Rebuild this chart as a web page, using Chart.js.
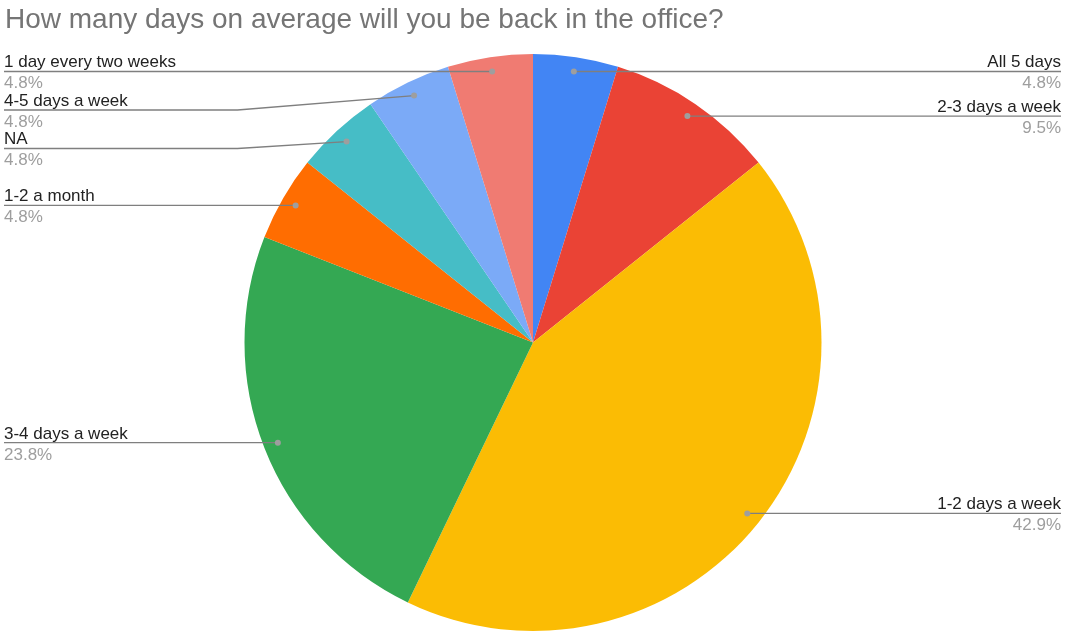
<!DOCTYPE html>
<html lang="en">

<head>
    <meta charset="UTF-8">
    <title>Back in the office</title>
    <style>
        body { margin: 0; background: #fff; }
        #wrap { width: 1065px; height: 633px; }
    </style>
</head>

<body>

    <script src="https://cdn.jsdelivr.net/npm/chart.js@4.4.0/dist/chart.umd.min.js"></script>

    <div id="wrap"><canvas id="myChart"></canvas></div>

    <script>

        var chartTitle = 'How many days on average will you be back in the office?';

        var labels = ['All 5 days', '2-3 days a week', '1-2 days a week', '3-4 days a week',
            '1-2 a month', 'NA', '4-5 days a week', '1 day every two weeks'];

        // number of responses per answer
        var counts = [1, 2, 9, 5, 1, 1, 1, 1];

        var colors = ['#4285f4', '#ea4335', '#fbbc04', '#34a853',
            '#ff6d01', '#46bdc6', '#7baaf7', '#f07b72'];

        var FONT = '"Liberation Sans", Arial, sans-serif';

        // title in the top left corner
        var titlePlugin = {
            id: 'sheetTitle',
            afterDraw: function (chart) {
                var ctx = chart.ctx;
                ctx.save();
                ctx.font = '28px ' + FONT;
                ctx.fillStyle = '#757575';
                ctx.textAlign = 'left';
                ctx.textBaseline = 'alphabetic';
                ctx.fillText(chartTitle, 5, 28);
                ctx.restore();
            }
        };

        // leader lines with label + percentage, like the spreadsheet pie
        var calloutPlugin = {
            id: 'callouts',
            afterDraw: function (chart) {
                var ctx = chart.ctx;
                var meta = chart.getDatasetMeta(0);
                var data = chart.data.datasets[0].data;
                var total = data.reduce(function (a, b) { return a + b; }, 0);
                var W = chart.width;
                var left = [], right = [];

                meta.data.forEach(function (arc, i) {
                    var mid = (arc.startAngle + arc.endAngle) / 2;
                    var r = arc.outerRadius * 0.95;
                    var item = {
                        i: i,
                        cx: arc.x, cy: arc.y, R: arc.outerRadius,
                        px: arc.x + Math.cos(mid) * r,
                        py: arc.y + Math.sin(mid) * r
                    };
                    item.y = item.py;
                    (Math.cos(mid) >= 0 ? right : left).push(item);
                });

                // push labels apart so they don't overlap
                [left, right].forEach(function (side) {
                    side.sort(function (a, b) { return a.py - b.py; });
                    var prev = -Infinity;
                    side.forEach(function (it) {
                        it.y = Math.max(it.py, prev + 38.5);
                        prev = it.y;
                    });
                });

                ctx.save();

                function draw(it, isLeft) {
                    var edgeX = isLeft ? 4 : W - 4;
                    var bendX = isLeft ? it.cx - it.R - 7 : it.cx + it.R + 7;
                    ctx.lineWidth = 1.3;
                    ctx.strokeStyle = '#7f7f7f';
                    ctx.beginPath();
                    ctx.moveTo(it.px, it.py);
                    if (Math.abs(it.y - it.py) > 1) {
                        ctx.lineTo(bendX, it.y);
                    }
                    ctx.lineTo(edgeX, it.y);
                    ctx.stroke();

                    ctx.beginPath();
                    ctx.fillStyle = '#9e9e9e';
                    ctx.arc(it.px, it.py, 3, 0, Math.PI * 2);
                    ctx.fill();

                    ctx.textAlign = isLeft ? 'left' : 'right';
                    ctx.textBaseline = 'alphabetic';
                    ctx.font = '17px ' + FONT;
                    ctx.fillStyle = '#222222';
                    ctx.fillText(chart.data.labels[it.i], edgeX, it.y - 4);
                    ctx.fillStyle = '#9e9e9e';
                    var pct = (data[it.i] / total * 100).toFixed(1) + '%';
                    ctx.fillText(pct, edgeX, it.y + 17);
                }

                left.forEach(function (it) { draw(it, true); });
                right.forEach(function (it) { draw(it, false); });
                ctx.restore();
            }
        };

        var config = {
            type: 'pie',
            data: {
                labels: labels,
                datasets: [{
                    data: counts,
                    backgroundColor: colors,
                    borderWidth: 0
                }]
            },
            options: {
                responsive: true,
                maintainAspectRatio: false,
                animation: false,
                layout: {
                    padding: { top: 54, bottom: 2, left: 1, right: 0 }
                },
                plugins: {
                    legend: { display: false },
                    title: { display: false },
                    tooltip: { enabled: false }
                }
            },
            plugins: [titlePlugin, calloutPlugin]
        };

        var ctx = document.getElementById('myChart').getContext('2d');
        var chart = new Chart(ctx, config);

    </script>

</body>

</html>
